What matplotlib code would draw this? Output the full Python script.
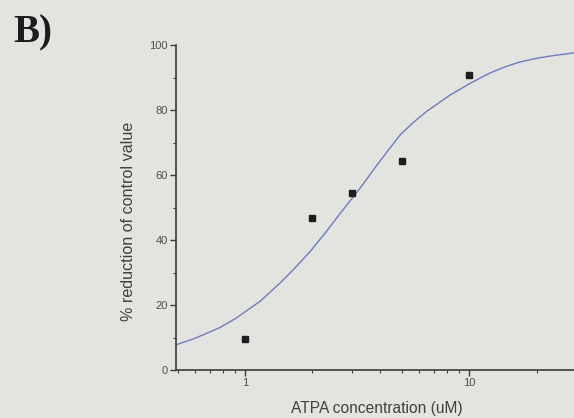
import matplotlib
matplotlib.use("Agg")
import matplotlib.pyplot as plt
from matplotlib.ticker import LogLocator, NullFormatter, FixedLocator, FixedFormatter

# measured responses
conc_um = [1, 2, 3, 5, 10]
reduction = [9.6, 46.7, 54.6, 64.3, 90.8]

# fitted dose-response curve (sampled)
fit_conc = [0.49, 0.6, 0.77, 0.91, 1.17, 1.43, 1.65, 1.95, 2.3, 2.66, 3.26,
            4.0, 4.92, 5.6, 6.47, 8.23, 10.1, 12.4, 14.5, 16.9, 20.0, 23.0, 29.4]
fit_reduction = [7.7, 9.8, 13.0, 15.9, 21.2, 26.7, 31.0, 36.4, 42.5, 48.2, 55.9,
                 64.3, 72.3, 76.0, 79.6, 84.6, 88.2, 91.4, 93.3, 94.8, 95.9, 96.6, 97.6]

x_ticks = [1, 10]
x_ticklabels = ["1", "10"]
y_ticks = [0, 20, 40, 60, 80, 100]

bg = "#e3e3e0"
ink = "#3a3a3a"

fig = plt.figure(figsize=(5.74, 4.18), dpi=100, facecolor=bg)
ax = fig.add_axes([0.3066, 0.1148, 0.6934, 0.7775], facecolor=bg)

ax.plot(fit_conc, fit_reduction, color="#6f7cc0", lw=1.0, zorder=2)
ax.plot(conc_um, reduction, ls="none", marker="s", ms=5, color="#1e1e1e", zorder=3)

ax.set_xscale("log")
ax.set_xlim(0.492, 29.4)
ax.set_ylim(0, 100)

ax.xaxis.set_major_locator(FixedLocator(x_ticks))
ax.xaxis.set_major_formatter(FixedFormatter(x_ticklabels))
ax.xaxis.set_minor_locator(LogLocator(base=10, subs=range(2, 10)))
ax.xaxis.set_minor_formatter(NullFormatter())
ax.set_yticks(y_ticks)
ax.yaxis.set_minor_locator(FixedLocator([10, 30, 50, 70, 90]))

for side in ("top", "right"):
    ax.spines[side].set_visible(False)
for side in ("left", "bottom"):
    ax.spines[side].set_color(ink)
    ax.spines[side].set_linewidth(1.2)

ax.tick_params(which="major", direction="out", length=4, width=1.0,
               color=ink, labelcolor="#4e4e4e", labelsize=8, pad=2)
ax.tick_params(which="minor", direction="out", length=2.5, width=0.8, color=ink)
for lab in ax.get_xticklabels() + ax.get_yticklabels():
    lab.set_family("Liberation Sans")

ax.set_xlabel("ATPA concentration (uM)", family="Liberation Sans",
              fontsize=11.2, color="#404040", va="center")
ax.xaxis.set_label_coords(0.505, -0.117)
ax.set_ylabel("% reduction of control value", family="Liberation Sans",
              fontsize=11.6, color="#404040", va="center")
ax.yaxis.set_label_coords(-0.12, 0.457)

fig.text(0.0226, 0.8995, "B)", family="Liberation Serif", weight="bold",
         fontsize=28, color="#1c1c1c", va="baseline", ha="left")

fig.savefig("out.png", dpi=100, facecolor=bg)
